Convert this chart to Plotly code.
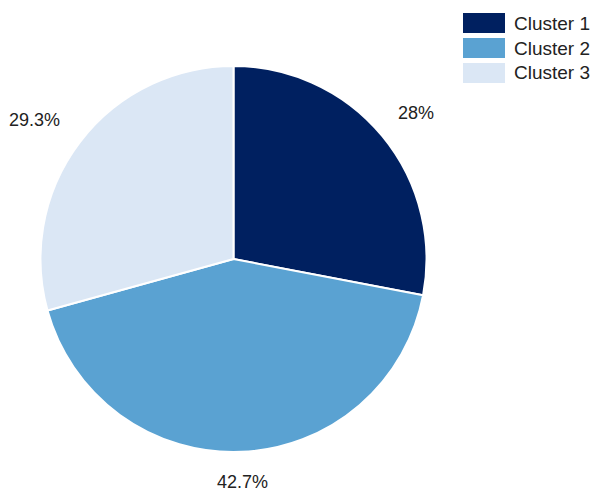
import math
import plotly.graph_objects as go

# Cluster shares (percent)
clusters = ["Cluster 1", "Cluster 2", "Cluster 3"]
shares = [28, 42.7, 29.3]
share_labels = ["28%", "42.7%", "29.3%"]
colors = ["#002060", "#5aa2d2", "#dbe7f5"]

W, H = 597, 493
# pie geometry in pixels
cx, cy, R = 233.5, 259.0, 193.0

fig = go.Figure(
    go.Pie(
        labels=clusters,
        values=shares,
        sort=False,
        direction="clockwise",
        rotation=0,
        textinfo="none",
        hoverinfo="label+percent",
        marker=dict(colors=colors, line=dict(color="white", width=2)),
        domain=dict(x=[(cx - R) / W, (cx + R) / W], y=[1 - (cy + R) / H, 1 - (cy - R) / H]),
        showlegend=False,
    )
)

# percentage labels placed outside each slice, along its mid angle
total = sum(shares)
cum = 0.0
for val, txt in zip(shares, share_labels):
    mid = (cum + val / 2) / total * 2 * math.pi
    cum += val
    s, c = math.sin(mid), math.cos(mid)
    px = cx + 1.12 * R * s
    py = cy - 1.12 * R * c
    if s > 0.15:
        xanchor, px = "left", px - 4
    elif s < -0.15:
        xanchor, px = "right", px + 1
    else:
        xanchor = "center"
    py = py - 8 if c > 0 else py + 7
    fig.add_annotation(
        x=px / W, y=1 - py / H, xref="paper", yref="paper",
        text=txt, showarrow=False, xanchor=xanchor, yanchor="middle",
        font=dict(family="Liberation Sans, Arial, sans-serif", size=18, color="#222222"),
    )

# legend: swatches and names at the top right
box_x0, box_x1, box_h, row_top, row_step = 463, 505, 20, 13, 25
for i, (name, col) in enumerate(zip(clusters, colors)):
    y0 = row_top + i * row_step
    fig.add_shape(
        type="rect", xref="paper", yref="paper",
        x0=box_x0 / W, x1=box_x1 / W, y0=1 - (y0 + box_h) / H, y1=1 - y0 / H,
        fillcolor=col, line=dict(width=0),
    )
    fig.add_annotation(
        x=512 / W, y=1 - (y0 + box_h / 2) / H, xref="paper", yref="paper",
        text=name, showarrow=False, xanchor="left", yanchor="middle",
        font=dict(family="Liberation Sans, Arial, sans-serif", size=19, color="#222222"),
    )

fig.update_layout(
    width=W, height=H,
    margin=dict(l=0, r=0, t=0, b=0),
    paper_bgcolor="white", plot_bgcolor="white",
)

fig.write_html("out.html")
